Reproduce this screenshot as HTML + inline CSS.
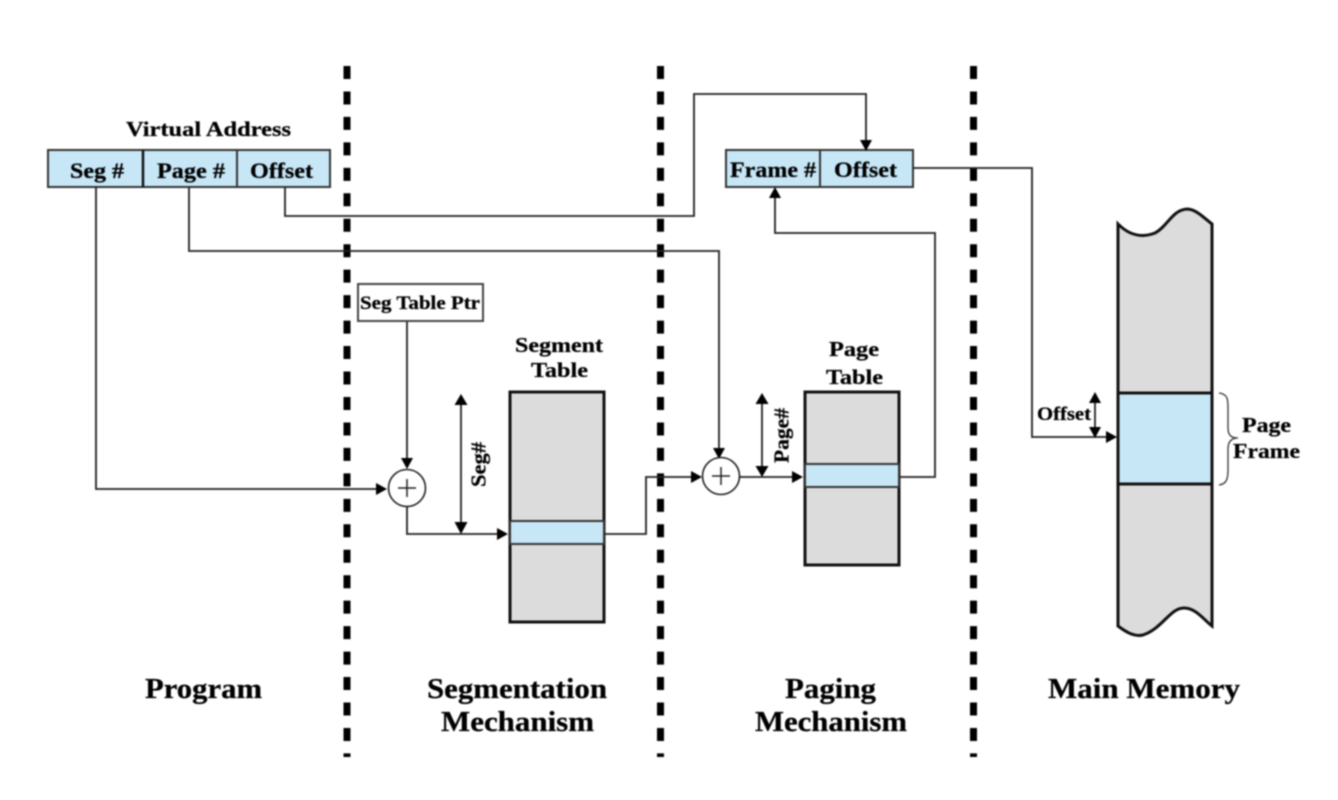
<!DOCTYPE html>
<html>
<head>
<meta charset="utf-8">
<style>
html,body{margin:0;padding:0;background:#fff;width:1338px;height:800px;overflow:hidden}
svg{display:block;filter:blur(0.8px)}
text{font-family:"Liberation Serif",serif;font-weight:bold;fill:#000;stroke:#000;stroke-width:0.25;text-anchor:middle}
.c{fill:none;stroke:#222;stroke-width:1.8}
.b{stroke:#111;stroke-width:3}
.a{fill:#000;stroke:none}
.d{stroke:#000;stroke-width:7;stroke-dasharray:13 12.46}
</style>
</head>
<body>
<svg width="1338" height="800" viewBox="0 0 1338 800" xmlns="http://www.w3.org/2000/svg">
<line class="d" x1="347" y1="66" x2="347" y2="757"/>
<line class="d" x1="660.5" y1="66" x2="660.5" y2="757"/>
<line class="d" x1="973.5" y1="66" x2="973.5" y2="757"/>

<!-- Virtual address -->
<rect x="48" y="150" width="282" height="37" fill="#c7e7f7" stroke="#333" stroke-width="2"/>
<line x1="143" y1="150" x2="143" y2="187" stroke="#111" stroke-width="2.5"/>
<line x1="237" y1="150" x2="237" y2="187" stroke="#333" stroke-width="2"/>
<text x="208.500" y="136" font-size="21" textLength="165" lengthAdjust="spacingAndGlyphs">Virtual Address</text>
<text x="97" y="178" font-size="22" textLength="54" lengthAdjust="spacingAndGlyphs">Seg #</text>
<text x="191" y="178" font-size="22" textLength="68" lengthAdjust="spacingAndGlyphs">Page #</text>
<text x="281.500" y="178" font-size="22" textLength="63" lengthAdjust="spacingAndGlyphs">Offset</text>

<!-- Frame / offset -->
<rect x="726" y="150" width="187" height="37" fill="#c7e7f7" stroke="#333" stroke-width="2"/>
<line x1="820" y1="150" x2="820" y2="187" stroke="#333" stroke-width="2"/>
<text x="773" y="177" font-size="22" textLength="86" lengthAdjust="spacingAndGlyphs">Frame #</text>
<text x="865.500" y="177" font-size="22" textLength="63" lengthAdjust="spacingAndGlyphs">Offset</text>

<!-- Connectors -->
<path class="c" d="M285 187V216H694V94H866V142"/>
<path class="a" d="M860 140h12l-6 11z"/>
<path class="c" d="M189 187V251H719V448"/>
<path class="a" d="M713 448h12l-6 11z"/>
<path class="c" d="M96 187V489H378"/>
<path class="a" d="M376 483v12l11-6z"/>
<path class="c" d="M913 168H1032V437H1108"/>
<path class="a" d="M1106 431v12l11-6z"/>
<path class="c" d="M407 322V460"/>
<path class="a" d="M401 458h12l-6 11z"/>
<path class="c" d="M407 507V534H498"/>
<path class="a" d="M497 528v12l11-6z"/>
<path class="c" d="M604 534H646V477H692"/>
<path class="a" d="M691 471v12l11-6z"/>
<path class="c" d="M740 477H795"/>
<path class="a" d="M792 471v12l11-6z"/>
<path class="c" d="M899 477H935V233H775V197"/>
<path class="a" d="M769 198h12l-6 -11z"/>

<!-- Seg table ptr -->
<rect x="358" y="284" width="125" height="37" fill="#fff" stroke="#444" stroke-width="2"/>
<text x="420" y="309" font-size="18.500" textLength="120" lengthAdjust="spacingAndGlyphs">Seg Table Ptr</text>

<!-- Adders -->
<circle cx="407" cy="488" r="18.500" fill="#fff" stroke="#222" stroke-width="1.600"/>
<path d="M398 488h18M407 479v18" stroke="#222" stroke-width="1.500"/>
<circle cx="721" cy="476" r="18.500" fill="#fff" stroke="#222" stroke-width="1.600"/>
<path d="M712 476h18M721 467v18" stroke="#222" stroke-width="1.500"/>

<!-- Segment table -->
<text x="559" y="352" font-size="21" textLength="88" lengthAdjust="spacingAndGlyphs">Segment</text>
<text x="559.500" y="377" font-size="21" textLength="57" lengthAdjust="spacingAndGlyphs">Table</text>
<rect x="510" y="392" width="94" height="230" fill="#dcdcdc" class="b"/>
<rect x="510" y="521" width="94" height="23" fill="#c7e7f7" stroke="#333" stroke-width="2"/>
<path class="c" d="M461 402V524"/>
<path class="a" d="M454.500 405h13l-6.500-11zM454.500 522h13l-6.500 12z"/>
<text transform="translate(485.500 464.500) rotate(-90)" font-size="21" textLength="45" lengthAdjust="spacingAndGlyphs">Seg#</text>

<!-- Page table -->
<text x="854" y="356" font-size="21" textLength="50" lengthAdjust="spacingAndGlyphs">Page</text>
<text x="854.500" y="384" font-size="21" textLength="57" lengthAdjust="spacingAndGlyphs">Table</text>
<rect x="805" y="392" width="94" height="173" fill="#dcdcdc" class="b"/>
<rect x="805" y="464" width="94" height="23" fill="#c7e7f7" stroke="#333" stroke-width="2"/>
<path class="c" d="M762 402V468"/>
<path class="a" d="M755.500 404h13l-6.500-11zM755.500 466h13l-6.500 11z"/>
<text transform="translate(788.500 435.500) rotate(-90)" font-size="21" textLength="55" lengthAdjust="spacingAndGlyphs">Page#</text>

<!-- Main memory -->
<path d="M1118 224C1130 236 1142 238 1155 233C1168 226 1172 210 1187 209C1196 209 1204 218 1212 224V626C1204 620 1196 608 1184 608C1170 608 1163 628 1143 635C1134 637 1126 632 1118 626Z" fill="#dcdcdc" stroke="#111" stroke-width="3"/>
<rect x="1118" y="393" width="94" height="91" fill="#c7e7f7" stroke="#111" stroke-width="3"/>
<path class="c" d="M1095 400V430"/>
<path class="a" d="M1089 403h12l-6-11zM1089 427h12l-6 11z"/>
<text x="1064" y="420" font-size="18.500" textLength="54" lengthAdjust="spacingAndGlyphs">Offset</text>
<path d="M1219 393C1228 394 1228 400 1228 408V428C1228 436 1232 438 1238 438C1232 438 1228 441 1228 449V470C1228 480 1226 484 1219 485" fill="none" stroke="#333" stroke-width="1.300"/>
<text x="1266.500" y="432" font-size="21" textLength="49" lengthAdjust="spacingAndGlyphs">Page</text>
<text x="1266.500" y="458" font-size="21" textLength="67" lengthAdjust="spacingAndGlyphs">Frame</text>

<!-- Section labels -->
<text x="203.500" y="698" font-size="28" textLength="117" lengthAdjust="spacingAndGlyphs">Program</text>
<text x="517" y="698" font-size="28" textLength="180" lengthAdjust="spacingAndGlyphs">Segmentation</text>
<text x="517.500" y="731" font-size="28" textLength="153" lengthAdjust="spacingAndGlyphs">Mechanism</text>
<text x="830.500" y="698" font-size="28" textLength="91" lengthAdjust="spacingAndGlyphs">Paging</text>
<text x="831" y="731" font-size="28" textLength="152" lengthAdjust="spacingAndGlyphs">Mechanism</text>
<text x="1144" y="698" font-size="28" textLength="192" lengthAdjust="spacingAndGlyphs">Main Memory</text>
</svg>
</body>
</html>
